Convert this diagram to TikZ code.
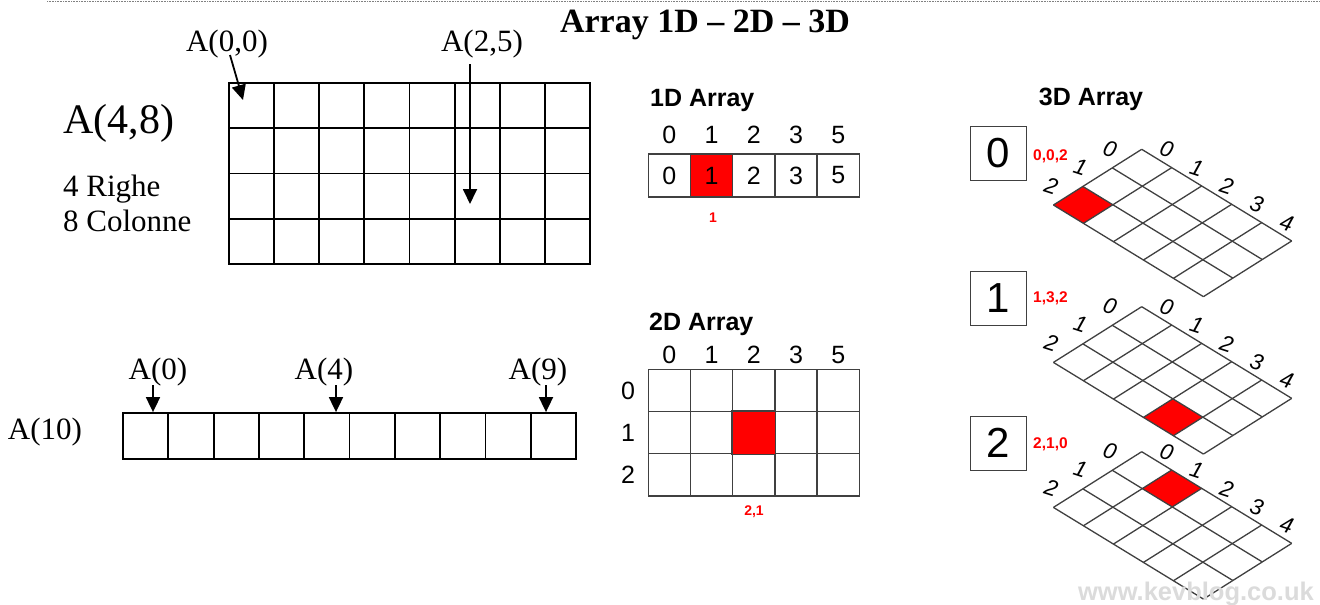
\documentclass[tikz,border=0pt]{standalone}
\usepackage{fontspec}
\setmainfont{Liberation Serif}
\newfontfamily\arial{Liberation Sans}
\usetikzlibrary{arrows.meta}
\definecolor{gline}{HTML}{404040}
\definecolor{myred}{HTML}{FF0000}
\tikzset{
  blk/.style={line width=1.8pt, draw=black},
  arr/.style={line width=1.8pt, -{Triangle[length=15pt,width=14pt]}},
  tnr/.style={font=\fontsize{31}{36}\selectfont, inner sep=0pt},
  tnrbig/.style={font=\fontsize{42}{48}\selectfont, inner sep=0pt},
  tnrb/.style={font=\bfseries\fontsize{34}{40}\selectfont, inner sep=0pt},
  sans/.style={font=\arial\fontsize{25}{30}\selectfont, inner sep=0pt},
  hd/.style={font=\arial\bfseries\fontsize{25}{30}\selectfont, inner sep=0pt},
  rl/.style={font=\arial\bfseries\fontsize{14}{16}\selectfont, text=myred, inner sep=0pt},
  rl3/.style={font=\arial\bfseries\fontsize{15.5}{18}\selectfont, text=myred, inner sep=0pt},
  gl/.style={line width=1.3pt, draw=gline},
  gcell/.style={draw=gline, line width=1.3pt, inner sep=0pt, font=\arial\fontsize{25}{30}\selectfont},
  bcell/.style={draw=black, line width=1.8pt, inner sep=0pt, minimum width=45.3pt, minimum height=46pt},
  bx/.style={draw=gline, line width=1pt, inner sep=0pt, minimum width=56pt, minimum height=54pt, font=\arial\fontsize{42}{48}\selectfont},
  iso/.style={font=\arial\itshape\fontsize{22.5}{24}\selectfont, rotate=-18, inner sep=0pt},
  dotline/.style={draw=gray, line width=0.8pt, dash pattern=on 0.8pt off 0.8pt},
}
\begin{document}
\begin{tikzpicture}[x=1pt,y=-1pt]
\useasboundingbox (0,0) rectangle (1320,605);
\fill[white] (0,0) rectangle (1320,605);

% top dotted rule
\coordinate (dl) at (47,1);
\coordinate (dr) at (1320,1);
\draw[dotline] (dl) -- (dr);

% title
\node[tnrb, anchor=base] (title) at (705,32) {Array 1D – 2D – 3D};

% ---------- left: A(4,8)
\node[tnr, anchor=base] (l00) at (227,51) {A(0,0)};
\node[tnr, anchor=base] (l25) at (482,51) {A(2,5)};
\node[tnrbig, anchor=base west] (a48) at (63,133) {A(4,8)};
\node[tnr, anchor=base west] (righe) at (63,196) {4 Righe};
\node[tnr, anchor=base west] (colonne) at (63,231) {8 Colonne};

\foreach \j in {1,...,7} \draw[blk] (229+45.125*\j,83) -- (229+45.125*\j,264);
\foreach \i in {1,2,3} \draw[blk] (229,83+45.25*\i) -- (590,83+45.25*\i);
\draw[blk] (229,83) rectangle (590,264);

\coordinate (a00s) at (230,55);
\coordinate (a00e) at (243,100);
\draw[arr] (a00s) -- (a00e);
\coordinate (a25s) at (470,64);
\coordinate (a25e) at (470,204);
\draw[arr] (a25s) -- (a25e);

% ---------- left: A(10)
\node[tnr, anchor=base] (a10) at (45,439) {A(10)};
\foreach \k in {0,...,9} \node[bcell] (v\k) at (145.65+45.3*\k,436) {};
\node[tnr, anchor=base] (t0) at (158,379) {A(0)};
\node[tnr, anchor=base] (t4) at (324,379) {A(4)};
\node[tnr, anchor=base] (t9) at (538,379) {A(9)};
\coordinate (p0) at (153,385);
\coordinate (p4) at (336,385);
\coordinate (p9) at (546,385);
\draw[arr] (p0) -- (p0 |- v0.north);
\draw[arr] (p4) -- (p4 |- v4.north);
\draw[arr] (p9) -- (p9 |- v9.north);

% ---------- 1D array
\node[hd, anchor=base west] (h1) at (650,106) {1D Array};
\foreach \v/\f [count=\k from 0] in {0/white,1/myred,2/white,3/white,5/white} {
  \node[sans, anchor=base] (i1\k) at (669.4+42.2*\k,143) {\v};
  \node[gcell, fill=\f, minimum width=42.2pt, minimum height=43pt] (d1\k) at (669.4+42.2*\k,175.5) {\v};
}
\node[rl, anchor=base] (r1) at (713,222) {1};

% ---------- 2D array
\node[hd, anchor=base west] (h2) at (649,330) {2D Array};
\foreach \v [count=\k from 0] in {0,1,2,3,5}
  \node[sans, anchor=base] (c2\k) at (669.4+42.2*\k,363) {\v};
\foreach \r in {0,1,2}
  \node[sans, anchor=base] (r2\r) at (628,399+42.2*\r) {\r};
\foreach \r in {0,1,2}
  \foreach \c in {0,...,4}
    \node[gcell, minimum size=42.2pt] (e\r\c) at (669.4+42.2*\c,390.4+42.2*\r) {};
\fill[myred, draw=gline, line width=1.3pt] (e12.south west) rectangle (e12.north east);
\node[rl, anchor=base] (r2) at (754,515) {2,1};

% ---------- 3D array
\node[hd, anchor=base] (h3) at (1091,105) {3D Array};
\node[bx] (b0) at (998,153) {0};
\node[bx] (b1) at (998,298) {1};
\node[bx] (b2) at (998,443) {2};
\node[rl3, anchor=base west] (q0) at (1033,160) {0,0,2};
\node[rl3, anchor=base west] (q1) at (1033,302) {1,3,2};
\node[rl3, anchor=base west] (q2) at (1033,448) {2,1,0};

\foreach \ty/\rc/\rr [count=\k from 0] in {149.3/0/2, 306.7/3/2, 451.7/1/0} {
  \begin{scope}[shift={(1141.7,\ty)}, x={(30pt,-18.33pt)}, y={(-29.43pt,-18.57pt)}]
    \fill[myred] (\rc,\rr) -- ++(1,0) -- ++(0,1) -- ++(-1,0) -- cycle;
    \foreach \i in {0,...,3} \draw[gl] (0,\i) -- (5,\i);
    \foreach \j in {0,...,5} \draw[gl] (\j,0) -- (\j,3);
    \foreach \j [evaluate=\j as \jm using \j+0.5] in {0,...,4}
      \node[iso] (cl\k\j) at ([xshift=10pt,yshift=9pt]\jm,0) {\j};
    \foreach \i [evaluate=\i as \im using \i+0.5] in {0,1,2}
      \node[iso] (rw\k\i) at ([xshift=-17pt,yshift=10pt]0,\im) {\i};
  \end{scope}
}

% watermark
\node[font=\arial\bfseries\fontsize{25.5}{30}\selectfont, text=black!14, inner sep=0pt, anchor=base east] (wm) at (1314,600) {www.kevblog.co.uk};
\end{tikzpicture}
\end{document}
